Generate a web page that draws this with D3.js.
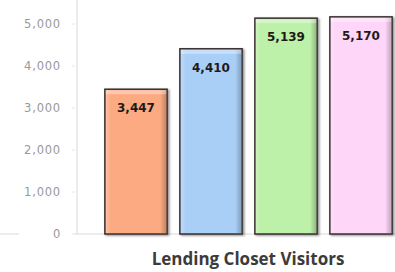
<html>
  <head>
    <meta charset="utf-8" />
    <title>Lending Closet Visitors</title>
    <script src="https://d3js.org/d3.v7.min.js"></script>
    <style>
      body { margin: 0; background: #fff; }
      svg { display: block; }
    </style>
  </head>
  <body>
    <div id="chart"></div>
    <script type="text/javascript">
      // data
      var categories = ["A", "B", "C", "D"];
      var visitors = [3447, 4410, 5139, 5170];
      var barColors = ["#fcaa82", "#aacff7", "#bdf0a8", "#fdd6f8"];
      var tickValues = [0, 1000, 2000, 3000, 4000, 5000];
      var title = "Lending Closet Visitors";

      var width = 395;
      var height = 272;

      var svg = d3
        .select("#chart")
        .append("svg")
        .attr("width", width)
        .attr("height", height);

      var defs = svg.append("defs");
      var shadow = defs.append("filter").attr("id", "shadow")
        .attr("x", "-10%").attr("y", "-10%").attr("width", "130%").attr("height", "130%");
      shadow.append("feDropShadow")
        .attr("dx", 1.5).attr("dy", 1).attr("stdDeviation", 1)
        .attr("flood-color", "#000").attr("flood-opacity", 0.45);

      // bevel gradient: light at left, darker toward right edge
      var bevel = defs.append("linearGradient").attr("id", "bevel")
        .attr("x1", "0").attr("x2", "1").attr("y1", "0").attr("y2", "0");
      bevel.append("stop").attr("offset", "0").attr("stop-color", "#fff").attr("stop-opacity", 0.25);
      bevel.append("stop").attr("offset", "0.08").attr("stop-color", "#fff").attr("stop-opacity", 0);
      bevel.append("stop").attr("offset", "0.9").attr("stop-color", "#000").attr("stop-opacity", 0);
      bevel.append("stop").attr("offset", "1").attr("stop-color", "#000").attr("stop-opacity", 0.22);

      var x = d3.scaleBand()
        .domain(categories)
        .range([98.5, 398.5])
        .paddingInner(0.17)
        .paddingOuter(0.085);

      var y = d3.scaleLinear().domain([0, 5000]).range([234, 24]);

      // left axis line
      svg.append("line")
        .attr("x1", 77).attr("x2", 77)
        .attr("y1", 0).attr("y2", y(0))
        .attr("stroke", "#d9d9d9").attr("stroke-width", 1);

      // baseline
      svg.append("line")
        .attr("x1", 75).attr("x2", width)
        .attr("y1", y(0)).attr("y2", y(0))
        .attr("stroke", "#d9d9d9").attr("stroke-width", 1);
      svg.append("line")
        .attr("x1", 0).attr("x2", 19)
        .attr("y1", y(0)).attr("y2", y(0))
        .attr("stroke", "#d9d9d9").attr("stroke-width", 1);

      // ticks
      var ticks = svg.selectAll(".tick").data(tickValues).enter().append("g")
        .attr("class", "tick")
        .attr("transform", function (d) { return "translate(0," + y(d) + ")"; });
      ticks.append("line")
        .attr("x1", 72).attr("x2", 75)
        .attr("stroke", "#e6e6e6");
      ticks.append("text")
        .attr("x", 61)
        .attr("dy", "0.35em")
        .attr("text-anchor", "end")
        .attr("font-family", "DejaVu Sans, sans-serif")
        .attr("font-size", 11.5)
        .attr("letter-spacing", 0.8)
        .attr("fill", "#999")
        .text(function (d) { return d3.format(",")(d); });

      // bars
      var bars = svg.selectAll(".bar").data(visitors).enter().append("g").attr("class", "bar");
      bars.append("rect")
        .attr("x", function (d, i) { return x(categories[i]); })
        .attr("y", function (d) { return y(d); })
        .attr("width", x.bandwidth())
        .attr("height", function (d) { return y(0) - y(d); })
        .attr("fill", function (d, i) { return barColors[i]; })
        .attr("stroke", "#3a3030")
        .attr("stroke-width", 1.5)
        .attr("filter", "url(#shadow)");
      bars.append("rect")
        .attr("x", function (d, i) { return x(categories[i]) + 1; })
        .attr("y", function (d) { return y(d) + 1; })
        .attr("width", x.bandwidth() - 2)
        .attr("height", function (d) { return y(0) - y(d) - 2; })
        .attr("fill", "url(#bevel)");
      bars.append("rect")
        .attr("x", function (d, i) { return x(categories[i]) + 1; })
        .attr("y", function (d) { return y(d) + 1; })
        .attr("width", x.bandwidth() - 2)
        .attr("height", 4)
        .attr("fill", "#fff")
        .attr("opacity", 0.35);

      bars.append("text")
        .attr("x", function (d, i) { return x(categories[i]) + x.bandwidth() / 2; })
        .attr("y", function (d) { return y(d) + 23; })
        .attr("text-anchor", "middle")
        .attr("font-family", "DejaVu Sans, sans-serif")
        .attr("font-weight", "bold")
        .attr("font-size", 12)
        .attr("fill", "#1f1a1a")
        .text(function (d) { return d3.format(",")(d); });

      // title
      svg.append("text")
        .attr("x", 248)
        .attr("y", 265)
        .attr("text-anchor", "middle")
        .attr("font-family", "Open Sans, sans-serif")
        .attr("font-weight", "bold")
        .attr("font-size", 17)
        .attr("fill", "#3b3b3b")
        .text(title);
    </script>
  </body>
</html>
